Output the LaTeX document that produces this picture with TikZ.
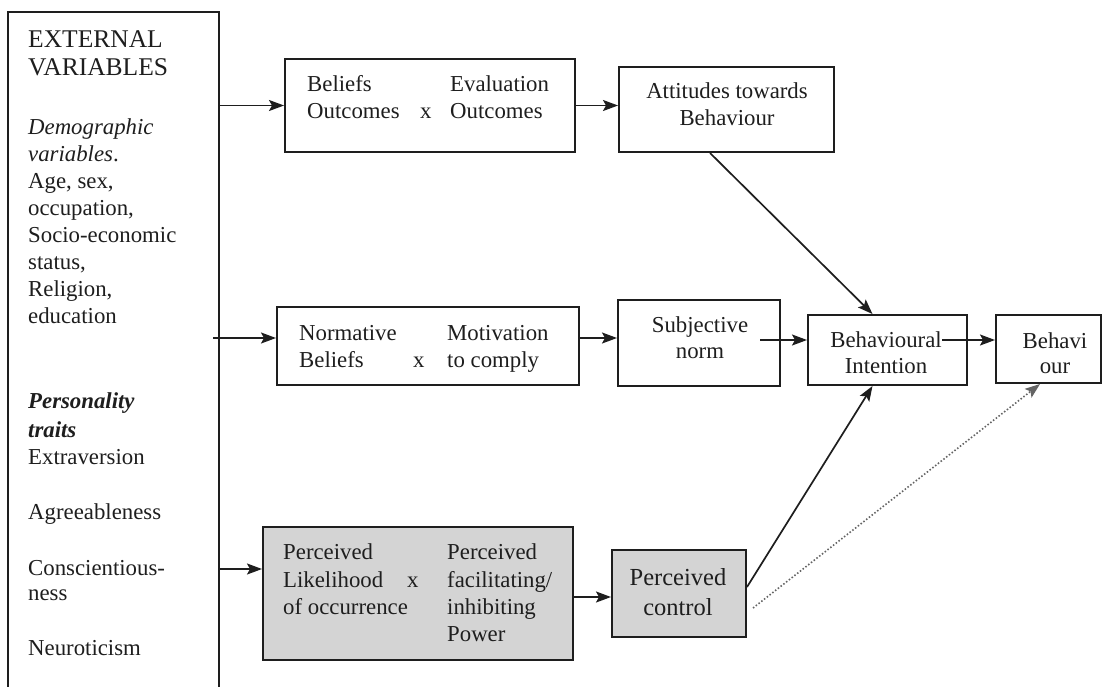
\documentclass[tikz,border=0pt]{standalone}
\usepackage{fontspec}
\setmainfont{Liberation Serif}
\usetikzlibrary{arrows.meta}
\definecolor{ink}{RGB}{30,30,30}
\definecolor{shade}{RGB}{212,212,212}
\definecolor{dotink}{RGB}{100,100,100}

\begin{document}
\begin{tikzpicture}[x=1pt,y=-1pt,
  box/.style={draw=ink, line width=2pt, rectangle, inner sep=0pt, anchor=center},
  gbox/.style={box, fill=shade},
  tl/.style={inner sep=0pt, anchor=base west, text=ink, font=\fontsize{22.8}{27}\selectfont},
  tc/.style={tl, anchor=base},
  big/.style={font=\fontsize{25.5}{28}\selectfont},
  bigc/.style={font=\fontsize{24.5}{30}\selectfont},
  arr/.style={draw=ink, line width=1.7pt, -{Stealth[length=15pt,width=11pt,inset=3pt]}},
  dotarr/.style={draw=dotink, line width=1.6pt, dash pattern=on 1.5pt off 2pt,
    -{Stealth[length=15pt,width=11pt,inset=3pt]}}]

\clip (0,0) rectangle (1103,686);
\fill[white] (0,0) rectangle (1103,686);

% ---- boxes ----
\node[box,  minimum width=211pt, minimum height=690pt] (ext)  at (113.5,357)  {};
\node[box,  minimum width=290pt, minimum height=93pt]  (b1)   at (430,105.5)  {};
\node[box,  minimum width=215pt, minimum height=85pt]  (att)  at (726.5,109.5) {};
\node[box,  minimum width=302pt, minimum height=78pt]  (b2)   at (428,346)    {};
\node[box,  minimum width=162pt, minimum height=86pt]  (subj) at (699,343)    {};
\node[box,  minimum width=159pt, minimum height=70pt]  (bi)   at (887.5,350)  {};
\node[box,  minimum width=105pt, minimum height=68pt]  (beh)  at (1048.5,349) {};
\node[gbox, minimum width=310pt, minimum height=133pt] (b3)   at (418,593.5)  {};
\node[gbox, minimum width=134pt, minimum height=87pt]  (pc)   at (679,593.5)  {};

% ---- external variables column ----
\node[tl, big] (e1) at (28,47) {EXTERNAL};
\node[tl, big] (e2) at (28,75) {VARIABLES};
\node[tl] (e3)  at (28,134) {\textit{Demographic}};
\node[tl] (e4)  at (28,161) {\textit{variables}.};
\node[tl] (e5)  at (28,188) {Age, sex,};
\node[tl] (e6)  at (28,215) {occupation,};
\node[tl] (e7)  at (28,242) {Socio-economic};
\node[tl] (e8)  at (28,269) {status,};
\node[tl] (e9)  at (28,296) {Religion,};
\node[tl] (e10) at (28,323) {education};
\node[tl] (e11) at (28,408) {\textbf{\textit{Personality}}};
\node[tl] (e12) at (28,437) {\textbf{\textit{traits}}};
\node[tl] (e13) at (28,464) {Extraversion};
\node[tl] (e14) at (28,519) {Agreeableness};
\node[tl] (e15) at (28,575) {Conscientious-};
\node[tl] (e16) at (28,600) {ness};
\node[tl] (e17) at (28,655) {Neuroticism};

% ---- beliefs x evaluation ----
\node[tl] (b1a) at (307,91)  {Beliefs};
\node[tl] (b1b) at (307,118) {Outcomes};
\node[tl] (b1x) at (420,118) {x};
\node[tl] (b1c) at (450,91)  {Evaluation};
\node[tl] (b1d) at (450,118) {Outcomes};

% ---- normative beliefs x motivation ----
\node[tl] (b2a) at (299,340) {Normative};
\node[tl] (b2b) at (299,367) {Beliefs};
\node[tl] (b2x) at (413,367) {x};
\node[tl] (b2c) at (447,340) {Motivation};
\node[tl] (b2d) at (447,367) {to comply};

% ---- likelihood x power ----
\node[tl] (b3a) at (283,559) {Perceived};
\node[tl] (b3b) at (283,587) {Likelihood};
\node[tl] (b3c) at (283,614) {of occurrence};
\node[tl] (b3x) at (407,587) {x};
\node[tl] (b3d) at (447,559) {Perceived};
\node[tl] (b3e) at (447,587) {facilitating/};
\node[tl] (b3f) at (447,614) {inhibiting};
\node[tl] (b3g) at (447,641) {Power};

% ---- centred labels ----
\node[tc] (atta) at (727,98)   {Attitudes towards};
\node[tc] (attb) at (727,125)  {Behaviour};
\node[tc] (suba) at (700,332)  {Subjective};
\node[tc] (subb) at (700,358)  {norm};
\node[tc] (bia)  at (886,347)  {Behavioural};
\node[tc] (bib)  at (886,373)  {Intention};
\node[tc] (beha) at (1055,348) {Behavi};
\node[tc] (behb) at (1055,373) {our};
\node[tc, bigc] (pca) at (678,585) {Perceived};
\node[tc, bigc] (pcb) at (678,615) {control};

% ---- connector end points ----
\coordinate (b2in)  at ([yshift=8pt]b2.west);
\coordinate (b2src) at ([xshift=-7pt]ext.east |- b2in);
\coordinate (b3in)  at ([yshift=24.5pt]b3.west);
\coordinate (subin) at ([yshift=5pt]subj.west);
\coordinate (biin)  at ([yshift=10pt]bi.west);
\coordinate (subout) at (760,340);
\coordinate (behin) at ([yshift=9pt]beh.west);
\coordinate (biout) at (942,340);
\coordinate (pcin)  at ([yshift=-3.5pt]pc.west);

% ---- connectors ----
\draw[arr] (ext.east |- b1.west) -- (b1.west);
\draw[arr] (b2src) -- (b2in);
\draw[arr] (ext.east |- b3in) -- (b3in);
\draw[arr] (b1.east) -- (att.west |- b1.east);
\draw[arr] (b2.east |- subin) -- (subin);
\draw[arr] (subout) -- (biin);
\draw[arr] (biout) -- (behin);
\draw[arr] (b3.east |- pcin) -- (pcin);
\draw[arr] ([xshift=-16.5pt]att.south) -- ([xshift=-15pt]bi.north);
\draw[arr] ([yshift=6.5pt]pc.east) -- ([xshift=-15pt]bi.south);
\draw[dotarr] ([xshift=6pt,yshift=-14.5pt]pc.east) -- ([xshift=-8.5pt]beh.south);
\end{tikzpicture}
\end{document}
